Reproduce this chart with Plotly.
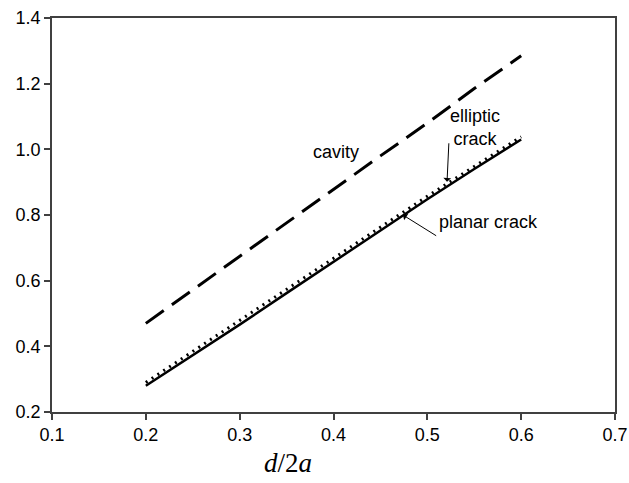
import plotly.graph_objects as go

x = [0.2, 0.25, 0.3, 0.35, 0.4, 0.45, 0.5, 0.55, 0.6]
cavity = [0.47, 0.572, 0.675, 0.777, 0.88, 0.98, 1.08, 1.185, 1.285]
planar = [0.28, 0.372, 0.466, 0.562, 0.658, 0.753, 0.848, 0.940, 1.030]
elliptic = [0.29, 0.384, 0.478, 0.573, 0.668, 0.763, 0.857, 0.948, 1.038]

xticks = [0.1, 0.2, 0.3, 0.4, 0.5, 0.6, 0.7]
yticks = [0.2, 0.4, 0.6, 0.8, 1.0, 1.2, 1.4]

fig = go.Figure()
fig.add_trace(go.Scatter(x=x, y=cavity, mode="lines",
                         line=dict(color="black", width=3, dash="22px,10px")))
fig.add_trace(go.Scatter(x=x, y=planar, mode="lines",
                         line=dict(color="black", width=2.5)))
fig.add_trace(go.Scatter(x=x, y=elliptic, mode="lines",
                         line=dict(color="black", width=3, dash="2px,5px")))

font = dict(family="Liberation Sans, Arial, sans-serif", size=18, color="black")

fig.add_annotation(x=0.403, y=0.993, text="cavity", showarrow=False, font=font)
fig.add_annotation(x=0.551, y=1.066, text="elliptic<br>crack", showarrow=False, font=font)
fig.add_annotation(x=0.565, y=0.779, text="planar crack", showarrow=False, font=font)
fig.add_annotation(x=0.521, y=0.901, ax=0.523, ay=1.023, axref="x", ayref="y",
                   text="", showarrow=True, arrowhead=1, arrowsize=1.3, arrowwidth=1,
                   arrowcolor="black")
fig.add_annotation(x=0.474, y=0.80, ax=0.511, ay=0.734, axref="x", ayref="y",
                   text="", showarrow=True, arrowhead=1, arrowsize=1.3, arrowwidth=1,
                   arrowcolor="black")
fig.add_annotation(x=0.352, y=-0.13, xref="x", yref="paper", yanchor="middle",
                   text="<i>d</i>/2<i>a</i>", showarrow=False,
                   font=dict(family="Liberation Serif, Times New Roman, serif",
                             size=27, color="black"))

axis_common = dict(showgrid=False, zeroline=False, showline=True, linecolor="#404040",
                   linewidth=1.5, mirror=True, ticks="outside", ticklen=6,
                   tickcolor="#404040", tickwidth=1.5, tickfont=font, automargin=False)

fig.update_xaxes(range=[0.1, 0.7], tickvals=xticks, ticktext=[f"{v:.1f}" for v in xticks],
                 **axis_common)
fig.update_yaxes(range=[0.2, 1.4], tickvals=yticks, ticktext=[f"{v:.1f}" for v in yticks],
                 **axis_common)

fig.update_layout(width=629, height=483, margin=dict(l=52, r=14, t=18, b=71),
                  plot_bgcolor="white", paper_bgcolor="white", showlegend=False)

fig.write_html("out.html")
